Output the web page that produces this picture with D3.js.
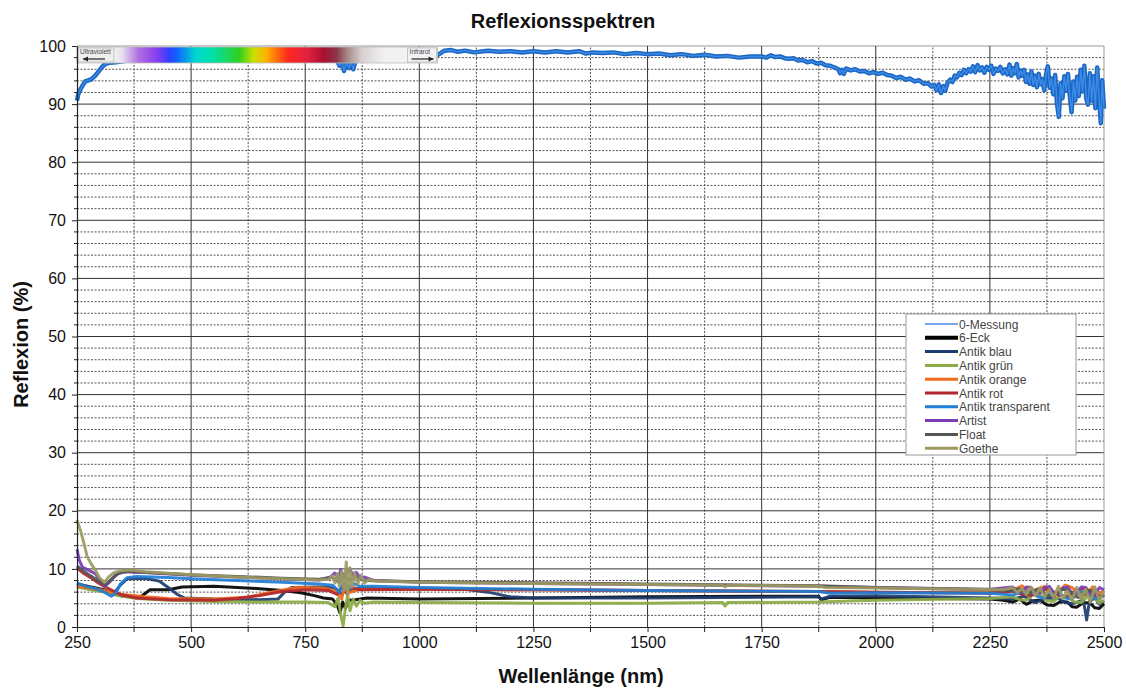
<!DOCTYPE html>
<html>
<head>
<meta charset="utf-8">
<script src="https://cdn.jsdelivr.net/npm/d3@7"></script>
<style>
  html, body { margin: 0; padding: 0; background: #fff; }
  svg { display: block; font-family: "Liberation Sans", Arial, sans-serif; }
</style>
</head>
<body>
<svg id="chart" width="1126" height="688"></svg>
<script>
// Reflexionsspektren: reflectance (%) versus wavelength (nm), pairs of [nm, %]
const seriesNames = ["0-Messung", "6-Eck", "Antik blau", "Antik grün", "Antik orange",
                     "Antik rot", "Antik transparent", "Artist", "Float", "Goethe"];

const messung0 = [[250,90.6],[253,91.8],[258,92.6],[263,93.3],[268,93.9],[275,94.1],[282,94.3],[290,94.9],[297,95.6],[305,96.4],[312,96.9],[320,97.1],[335,97.2],[360,97.5],[400,97.7],[500,97.9],[600,98.0],[700,98.1],[800,98.0],[818,97.8],[825,96.6],[830,97.5],[835,95.7],[840,97.2],[846,96.2],[850,97.4],[855,96.0],[860,97.3],[870,97.6],[900,98.0],[1000,98.3],[1035,98.2],[1045,98.7],[1055,99.2],[1070,99.3],[1085,99.0],[1100,99.2],[1120,98.9],[1150,99.2],[1175,99.0],[1200,99.1],[1225,98.9],[1250,99.1],[1275,98.9],[1300,99.1],[1325,98.9],[1350,99.1],[1365,98.7],[1380,98.9],[1400,98.8],[1425,98.9],[1450,98.6],[1475,98.8],[1500,98.6],[1525,98.7],[1550,98.4],[1575,98.6],[1600,98.3],[1625,98.5],[1650,98.2],[1675,98.3],[1700,98.0],[1725,98.2],[1750,98.2],[1760,98.0],[1770,98.4],[1780,98.1],[1790,98.2],[1800,97.9],[1810,97.8],[1820,97.9],[1830,97.5],[1840,97.6],[1850,97.2],[1860,97.4],[1870,97.0],[1880,97.1],[1890,96.7],[1900,96.6],[1910,96.3],[1918,96.0],[1922,95.3],[1926,95.9],[1930,95.2],[1935,96.1],[1945,95.8],[1955,96.0],[1965,95.6],[1975,95.7],[1985,95.3],[1995,95.5],[2005,95.2],[2015,95.4],[2025,95.0],[2035,94.9],[2045,94.5],[2055,94.7],[2065,94.2],[2075,94.4],[2085,93.9],[2095,94.1],[2105,93.5],[2115,93.6],[2122,93.0],[2128,93.3],[2133,92.4],[2138,93.4],[2143,91.9],[2148,93.1],[2152,92.3],[2157,93.6],[2163,94.2],[2168,93.8],[2173,94.9],[2178,94.6],[2183,95.4],[2188,95.0],[2193,95.9],[2198,95.3],[2203,96.0],[2208,95.6],[2213,96.5],[2218,95.5],[2223,96.7],[2228,95.8],[2233,96.3],[2238,95.4],[2243,96.4],[2248,95.9],[2253,96.6],[2258,95.2],[2263,96.1],[2268,95.7],[2273,96.4],[2278,95.3],[2283,96.0],[2288,95.1],[2293,96.8],[2297,94.9],[2301,96.2],[2305,95.3],[2309,96.9],[2313,94.6],[2317,95.8],[2321,94.9],[2325,95.9],[2329,93.8],[2333,95.1],[2337,93.5],[2341,95.6],[2345,93.3],[2349,94.9],[2353,92.9],[2357,95.2],[2361,93.4],[2365,94.3],[2369,92.4],[2373,95.1],[2377,96.5],[2381,92.8],[2385,94.4],[2389,91.7],[2393,95.0],[2397,90.1],[2401,87.8],[2405,93.6],[2409,91.0],[2413,94.8],[2417,92.3],[2421,95.2],[2425,91.5],[2429,88.6],[2433,93.9],[2437,90.6],[2441,94.7],[2445,91.4],[2449,95.9],[2453,92.2],[2457,96.6],[2461,91.0],[2465,89.9],[2469,95.3],[2473,90.6],[2477,94.8],[2481,89.3],[2485,96.3],[2489,91.2],[2493,86.7],[2496,94.1],[2500,89.2]];

const eck6 = [[250,7.4],[280,6.9],[310,6.4],[330,5.8],[350,5.3],[370,5.2],[390,5.2],[400,5.8],[410,6.4],[450,6.4],[480,6.9],[550,7.0],[650,6.6],[700,6.3],[740,5.9],[770,5.4],[790,5.0],[810,4.8],[820,3.8],[826,2.4],[832,4.3],[838,3.2],[845,4.6],[860,4.7],[885,5.0],[1000,4.8],[1250,5.0],[1500,5.2],[1750,5.3],[1875,5.3],[1880,4.7],[1900,5.1],[2000,5.0],[2250,4.8],[2280,4.6],[2300,4.3],[2315,4.8],[2330,3.9],[2345,4.5],[2360,4.6],[2375,3.8],[2390,3.7],[2405,4.4],[2420,4.3],[2430,3.5],[2440,3.4],[2455,4.2],[2470,4.1],[2480,3.3],[2490,3.2],[2500,4.0]];

const antikBlau = [[250,7.2],[280,6.6],[310,6.1],[330,5.7],[345,7.2],[360,8.3],[400,8.4],[430,7.9],[450,6.8],[470,5.6],[485,5.0],[550,4.8],[650,4.7],[690,4.8],[705,6.0],[720,6.8],[780,6.9],[815,6.7],[830,5.6],[840,7.2],[850,6.2],[870,6.7],[1000,6.6],[1100,6.5],[1150,6.0],[1200,5.2],[1250,5.0],[1500,5.0],[1875,5.2],[1880,4.8],[1900,5.3],[2000,5.4],[2250,5.0],[2300,4.8],[2325,5.3],[2350,4.2],[2375,5.0],[2400,4.9],[2415,4.2],[2430,4.0],[2455,4.6],[2462,1.2],[2468,4.4],[2480,5.0],[2490,3.9],[2500,4.5]];

const antikGruen = [[250,6.9],[280,6.4],[310,6.0],[340,5.4],[380,4.9],[450,4.6],[550,4.4],[650,4.3],[750,4.3],[800,4.2],[815,3.5],[822,5.0],[828,2.0],[833,0.2],[838,3.2],[843,5.6],[848,2.8],[855,4.8],[862,3.6],[870,4.6],[880,4.1],[900,4.3],[1000,4.2],[1250,4.1],[1500,4.1],[1665,4.2],[1670,3.6],[1675,4.2],[1875,4.3],[2000,4.6],[2250,4.9],[2300,5.2],[2315,4.7],[2330,4.6],[2345,5.6],[2360,5.4],[2375,4.5],[2390,4.4],[2405,5.5],[2420,5.3],[2435,4.3],[2450,4.2],[2465,5.4],[2480,5.0],[2490,4.1],[2500,4.6]];

const antikOrange = [[250,7.0],[280,6.7],[310,6.3],[330,5.9],[350,5.6],[400,5.2],[450,4.9],[550,4.8],[620,5.1],[670,5.9],[710,6.5],[730,6.8],[790,6.7],[820,6.1],[830,4.8],[835,6.9],[845,5.9],[870,6.5],[1000,6.5],[1250,6.4],[1500,6.3],[1875,6.1],[2000,6.0],[2250,5.9],[2300,6.3],[2320,7.1],[2340,5.8],[2355,6.6],[2370,7.0],[2385,5.9],[2400,6.0],[2415,7.2],[2430,6.8],[2445,5.7],[2460,5.6],[2475,6.9],[2490,5.8],[2500,6.3]];

const antikRot = [[250,10.2],[265,9.2],[280,8.5],[300,7.4],[315,6.8],[330,6.2],[345,5.6],[380,5.0],[450,4.7],[550,4.6],[600,4.9],[650,5.4],[700,6.1],[750,6.4],[800,6.3],[820,5.6],[830,7.0],[840,5.8],[850,6.9],[870,6.4],[1000,6.5],[1250,6.4],[1500,6.3],[1875,6.1],[2000,6.0],[2250,5.8],[2300,6.2],[2320,5.6],[2340,5.4],[2360,6.3],[2380,6.5],[2400,5.5],[2420,5.2],[2440,6.4],[2460,6.6],[2480,5.3],[2500,5.4]];

const antikTransparent = [[250,7.6],[270,7.0],[290,6.6],[310,6.0],[325,5.3],[335,5.8],[345,7.4],[360,8.5],[380,8.7],[450,8.5],[500,8.3],[600,8.0],[700,7.7],[780,7.4],[810,7.2],[825,6.0],[835,7.8],[845,6.6],[855,7.5],[870,7.0],[900,7.0],[1000,6.8],[1250,6.5],[1500,6.3],[1665,6.2],[1875,6.1],[1900,5.8],[2000,5.9],[2250,5.8],[2300,5.5],[2320,6.0],[2340,6.1],[2355,5.2],[2370,5.0],[2385,6.0],[2400,5.9],[2415,5.0],[2430,4.8],[2445,6.1],[2460,6.0],[2475,5.0],[2490,4.9],[2500,5.5]];

const artist = [[250,13.4],[255,11.5],[262,10.3],[275,9.8],[290,9.2],[300,8.0],[310,7.0],[320,7.6],[335,9.0],[350,9.5],[400,9.4],[500,8.9],[600,8.6],[700,8.3],[780,8.1],[805,8.6],[815,9.3],[822,8.2],[828,9.9],[835,8.4],[842,9.6],[848,10.0],[855,8.6],[862,9.4],[870,8.5],[880,8.6],[900,8.0],[1000,7.7],[1250,7.5],[1500,7.3],[1875,7.0],[2000,6.8],[2250,6.5],[2300,6.9],[2310,6.2],[2320,6.0],[2330,6.9],[2340,6.8],[2350,5.9],[2360,5.8],[2370,6.8],[2380,7.0],[2390,5.9],[2400,5.7],[2410,6.7],[2420,6.9],[2430,5.8],[2440,5.9],[2450,6.9],[2460,6.8],[2470,5.7],[2480,5.6],[2490,6.8],[2500,6.4]];

const float = [[250,10.5],[265,9.6],[280,8.8],[300,7.8],[312,7.2],[325,8.2],[340,9.2],[360,9.6],[400,9.4],[500,9.0],[600,8.7],[700,8.4],[780,8.2],[810,8.5],[825,7.6],[835,9.0],[845,8.0],[860,8.6],[880,8.0],[1000,7.8],[1250,7.6],[1500,7.4],[1875,7.1],[2000,6.8],[2250,6.4],[2300,6.2],[2315,6.6],[2330,5.5],[2345,6.3],[2360,6.5],[2375,5.4],[2390,5.2],[2405,6.5],[2420,6.4],[2435,5.3],[2450,5.0],[2465,6.3],[2480,6.2],[2490,5.1],[2500,5.6]];

const goethe = [[250,18.4],[258,16.5],[265,14.5],[272,12.2],[280,11.0],[290,9.8],[300,8.4],[310,7.7],[318,8.5],[330,9.3],[345,9.7],[370,9.8],[400,9.5],[500,9.0],[600,8.6],[700,8.3],[780,8.1],[800,8.2],[810,8.8],[815,7.6],[820,9.2],[825,7.0],[830,9.6],[835,6.2],[840,11.2],[843,5.5],[848,10.2],[852,6.8],[858,9.4],[865,7.4],[872,8.9],[880,7.6],[890,8.2],[900,7.9],[1000,7.7],[1250,7.5],[1500,7.3],[1665,7.2],[1670,6.9],[1675,7.2],[1875,7.0],[1890,6.8],[2000,6.7],[2200,6.5],[2280,6.4],[2300,6.8],[2310,5.9],[2320,6.6],[2330,5.6],[2340,6.9],[2350,5.4],[2360,6.7],[2370,5.2],[2380,6.5],[2390,5.0],[2400,7.0],[2410,4.9],[2420,6.2],[2430,4.6],[2440,6.8],[2450,4.8],[2460,6.5],[2470,4.2],[2480,6.9],[2490,4.5],[2500,6.2]];

const seriesData = [messung0, eck6, antikBlau, antikGruen, antikOrange,
                    antikRot, antikTransparent, artist, float, goethe];
const seriesColors = ["#4d86ee", "#000000", "#1d3c6e", "#8bab45", "#f26b1d",
                      "#b1262c", "#1f7ed6", "#7b3db5", "#555555", "#9c9a62"];
const seriesWidths = [1.6, 4, 3, 3, 3, 3, 3, 3, 3, 3];

const xTicks = [250, 500, 750, 1000, 1250, 1500, 1750, 2000, 2250, 2500];
const yTicks = [0, 10, 20, 30, 40, 50, 60, 70, 80, 90, 100];

// Visible-spectrum strip across the top of the plot
const spectrumStops = [
  [0.000, "#f2f2f2"], [0.105, "#f2f2f2"], [0.125, "#e6dff0"], [0.170, "#b070e0"],
  [0.220, "#8a3ef0"], [0.255, "#3040ff"], [0.275, "#1060ff"], [0.330, "#00d8d0"],
  [0.375, "#00e0a8"], [0.450, "#30d020"], [0.490, "#c8e000"], [0.525, "#ffb000"],
  [0.560, "#ff6010"], [0.585, "#ff2820"], [0.640, "#e02040"], [0.685, "#a81030"],
  [0.720, "#8a3848"], [0.750, "#a88888"], [0.790, "#d8d0d0"], [0.850, "#f0f0f0"],
  [1.000, "#f4f4f4"]];

const svg = d3.select("#chart");
const margin = {left: 77, right: 22, top: 46, bottom: 61};
const W = 1126, H = 688;
const x = d3.scaleLinear().domain([250, 2500]).range([margin.left, W - margin.right]);
const y = d3.scaleLinear().domain([0, 100]).range([H - margin.bottom, margin.top]);

// Gridlines
const grid = svg.append("g");
const yMinor = d3.range(0, 101, 2).filter(v => v % 10 !== 0);
const xMinor = d3.range(375, 2500, 250);
grid.selectAll(".hmin").data(yMinor).join("line")
  .attr("x1", x(250)).attr("x2", x(2500)).attr("y1", d => y(d)).attr("y2", d => y(d))
  .attr("stroke", "#555").attr("stroke-width", 1).attr("stroke-dasharray", "2,1.5");
grid.selectAll(".vmin").data(xMinor).join("line")
  .attr("y1", y(0)).attr("y2", y(100)).attr("x1", d => x(d)).attr("x2", d => x(d))
  .attr("stroke", "#555").attr("stroke-width", 1).attr("stroke-dasharray", "2,1.5");
grid.selectAll(".hmaj").data(yTicks.slice(1)).join("line")
  .attr("x1", x(250)).attr("x2", x(2500)).attr("y1", d => y(d)).attr("y2", d => y(d))
  .attr("stroke", d => d === 100 ? "#999" : "#333").attr("stroke-width", 1);
grid.selectAll(".vmaj").data(xTicks.slice(1)).join("line")
  .attr("y1", y(0)).attr("y2", y(100)).attr("x1", d => x(d)).attr("x2", d => x(d))
  .attr("stroke", d => d === 2500 ? "#999" : "#333").attr("stroke-width", 1);

// Spectra
const line = d3.line().x(d => x(d[0])).y(d => y(d[1]));
const plot = svg.append("g");
// reference measurement: broad stroke with a lighter core
plot.append("path").datum(messung0).attr("d", line)
  .attr("fill", "none").attr("stroke", "#1b67c2").attr("stroke-width", 4.5)
  .attr("stroke-linejoin", "round");
plot.append("path").datum(messung0).attr("d", line)
  .attr("fill", "none").attr("stroke", "#3d8be8").attr("stroke-width", 1.4)
  .attr("stroke-linejoin", "round");
seriesData.slice(1).forEach((data, i) => {
  plot.append("path").datum(data).attr("d", line)
    .attr("fill", "none").attr("stroke", seriesColors[i + 1])
    .attr("stroke-width", 3).attr("stroke-linejoin", "round").attr("stroke-opacity", 0.92);
});

// Spectrum strip with UV / IR markers
const defs = svg.append("defs");
const grad = defs.append("linearGradient").attr("id", "spectrum");
grad.selectAll("stop").data(spectrumStops).join("stop")
  .attr("offset", d => d[0]).attr("stop-color", d => d[1]);
const strip = svg.append("g");
const sx0 = x(250), sx1 = x(1040), sy0 = y(100) + 1, sh = 16;
strip.append("rect").attr("x", sx0).attr("y", sy0).attr("width", sx1 - sx0).attr("height", sh)
  .attr("fill", "url(#spectrum)").attr("stroke", "#bbb").attr("stroke-width", 0.8);
strip.append("rect").attr("x", sx0 + 1).attr("y", sy0 + 1).attr("width", 36).attr("height", sh - 2)
  .attr("fill", "#eeeeee").attr("stroke", "#aaa").attr("stroke-width", 0.6);
strip.append("rect").attr("x", sx1 - 30).attr("y", sy0 + 1).attr("width", 29).attr("height", sh - 2)
  .attr("fill", "#f2f2f2").attr("stroke", "#aaa").attr("stroke-width", 0.6);
strip.append("text").attr("x", sx0 + 3).attr("y", sy0 + 7).attr("font-size", 6.5).attr("fill", "#444")
  .text("Ultraviolett");
strip.append("text").attr("x", sx1 - 28).attr("y", sy0 + 7).attr("font-size", 6.5).attr("fill", "#444")
  .text("Infrarot");
const arrow = (xa, xb, yy) => {
  strip.append("line").attr("x1", xa).attr("x2", xb).attr("y1", yy).attr("y2", yy)
    .attr("stroke", "#222").attr("stroke-width", 1.2);
  const dir = Math.sign(xb - xa);
  strip.append("path").attr("d", `M${xb},${yy} l${-dir * 5},-2.5 l0,5 z`).attr("fill", "#222");
};
arrow(sx0 + 28, sx0 + 6, sy0 + 12);
arrow(sx1 - 26, sx1 - 4, sy0 + 12);

// Axes
const yAxis = svg.append("g").attr("transform", `translate(${x(250)},0)`)
  .call(d3.axisLeft(y).tickValues(yTicks).tickSize(5).tickSizeOuter(0).tickPadding(6)
    .tickFormat(d3.format("d")));
const xAxis = svg.append("g").attr("transform", `translate(0,${y(0)})`)
  .call(d3.axisBottom(x).tickValues(xTicks).tickSize(5).tickSizeOuter(0).tickPadding(5)
    .tickFormat(d3.format("d")));
[yAxis, xAxis].forEach(a => {
  a.select(".domain").attr("stroke", "#222").attr("stroke-width", 1.2);
  a.selectAll(".tick line").attr("stroke", "#222");
  a.selectAll("text").attr("font-size", 16).attr("fill", "#111")
    .attr("font-family", "'Liberation Sans', Arial, sans-serif");
});
// minor tick marks
svg.append("g").selectAll("line").data(yMinor).join("line")
  .attr("x1", x(250) - 3).attr("x2", x(250)).attr("y1", d => y(d)).attr("y2", d => y(d))
  .attr("stroke", "#222");
svg.append("g").selectAll("line").data(xMinor).join("line")
  .attr("x1", d => x(d)).attr("x2", d => x(d)).attr("y1", y(0)).attr("y2", y(0) + 5)
  .attr("stroke", "#222");

// Titles
svg.append("text").attr("x", 563).attr("y", 28).attr("text-anchor", "middle")
  .attr("font-size", 20).attr("font-weight", "bold").attr("fill", "#111")
  .text("Reflexionsspektren");
svg.append("text").attr("x", 581).attr("y", 683).attr("text-anchor", "middle")
  .attr("font-size", 20).attr("font-weight", "bold").attr("fill", "#111")
  .text("Wellenlänge (nm)");
svg.append("text").attr("transform", `translate(28,${(y(0) + y(100)) / 2 + 8}) rotate(-90)`)
  .attr("text-anchor", "middle").attr("font-size", 20).attr("font-weight", "bold").attr("fill", "#111")
  .text("Reflexion (%)");

// Legend
const lg = svg.append("g").attr("transform", "translate(906,314)");
lg.append("rect").attr("width", 170).attr("height", 141)
  .attr("fill", "#fff").attr("stroke", "#999").attr("stroke-width", 1);
const items = lg.selectAll("g.item").data(seriesNames).join("g")
  .attr("transform", (d, i) => `translate(0,${10 + i * 13.8})`);
items.append("line").attr("x1", 19).attr("x2", 52).attr("y1", 0).attr("y2", 0)
  .attr("stroke", (d, i) => seriesColors[i]).attr("stroke-width", (d, i) => seriesWidths[i]);
items.append("text").attr("x", 53).attr("y", 4.5).attr("font-size", 12).attr("fill", "#444")
  .text(d => d);
</script>
</body>
</html>
